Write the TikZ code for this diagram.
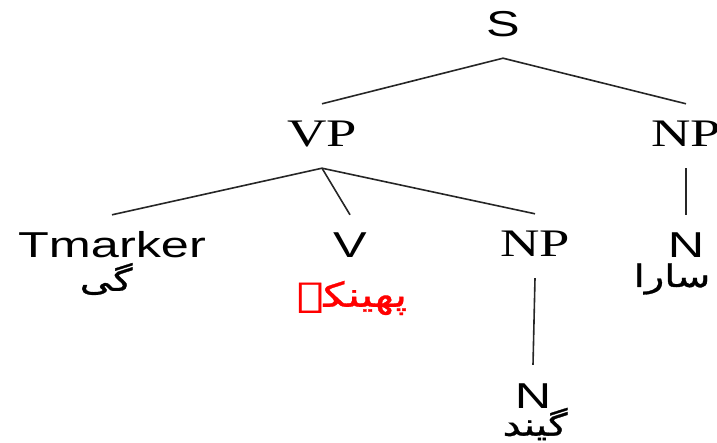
\documentclass[tikz,border=0pt]{standalone}
\usepackage{fontspec}
\TeXXeTstate=1
\newfontfamily\trsans[FakeStretch=1.4]{Liberation Sans}
\newfontfamily\trserif[FakeStretch=1.4]{Liberation Serif}
\newfontfamily\urdufont[Script=Arabic,FakeStretch=1.3,FakeBold=1]{DejaVu Sans}
\begin{document}
\begin{tikzpicture}[x=1pt,y=-1pt,
  cat/.style={anchor=base, text height=26pt, text depth=4pt, inner xsep=0pt, inner ysep=17pt},
  sanscat/.style={cat, font=\trsans\fontsize{36}{40}\selectfont},
  serifcat/.style={cat, font=\trserif\fontsize{39}{43}\selectfont},
  word/.style={font=\urdufont\fontsize{31}{35}\selectfont, inner sep=0pt},
  branch/.style={draw=black!85, line width=1.6pt}]
\useasboundingbox (0,0) rectangle (717,443);
% categories
\node[sanscat]  (S)   at (503,37)  {S};
\node[serifcat] (VP)  at (322,147) {VP};
\node[serifcat] (NP1) at (686,147) {NP};
\node[sanscat]  (Tm)  at (112,258) {Tmarker};
\node[sanscat]  (V)   at (350,258) {V};
\node[serifcat] (NP2) at (535,257) {NP};
\node[sanscat]  (N1)  at (686,258) {N};
\node[sanscat]  (N2)  at (533,408) {N};
% Urdu words
\node[word] (w1) at (106,279) {\beginR گی\endR};
\node[word, text=red, font=\urdufont\fontsize{34}{38}\selectfont] (w2) at (352,298) {\beginR پھینکے\endR};
\node[word] (w3) at (672,279) {\beginR سارا\endR};
\node[word] (w4) at (535,424) {\beginR گیند\endR};
% branches
\draw[branch] (S.south) -- (VP.north);
\draw[branch] (S.south) -- (NP1.north);
\draw[branch] (VP.south) -- (Tm.north);
\draw[branch] (VP.south) -- (V.north);
\draw[branch] (VP.south) -- (NP2.north);
\draw[branch] (NP1.south) -- (N1.north);
\draw[branch] (NP2.south) -- (N2.north);
\end{tikzpicture}
\end{document}
